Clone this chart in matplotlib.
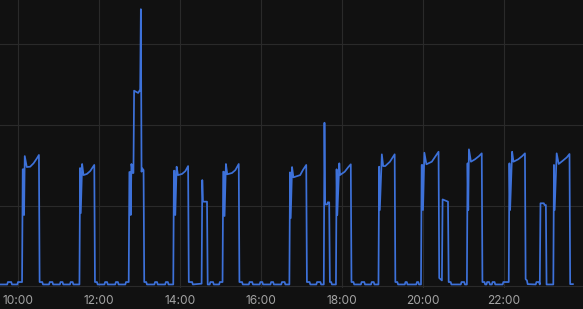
import matplotlib
matplotlib.use("Agg")
import matplotlib.pyplot as plt
import matplotlib.dates as mdates
import pandas as pd

# sample times (HH:MM) and power readings
times = [
    "09:30", "09:44", "09:45", "09:50", "09:51", "09:59", "10:00", "10:06",
    "10:07", "10:08", "10:09", "10:10", "10:13", "10:18", "10:23", "10:28", "10:31",
    "10:32", "10:36", "10:37", "10:46", "10:47", "10:51", "10:52", "11:02", "11:03",
    "11:06", "11:07", "11:17", "11:18", "11:21", "11:22", "11:31",
    "11:32", "11:33", "11:35", "11:37", "11:42", "11:47", "11:50", "11:53",
    "11:54", "11:57", "11:58", "12:08", "12:09", "12:12", "12:13", "12:24", "12:25",
    "12:28", "12:29", "12:39", "12:40", "12:44",
    "12:45", "12:46", "12:47", "12:48", "12:50", "12:51", "12:52", "12:58", "13:00",
    "13:01", "13:02", "13:03", "13:04", "13:06",
    "13:07", "13:10", "13:11", "13:22", "13:23", "13:26", "13:27", "13:38", "13:39",
    "13:42", "13:43", "13:50",
    "13:51", "13:52", "13:53", "13:55", "13:57", "14:03", "14:08", "14:12",
    "14:13", "14:18", "14:19", "14:32",
    "14:33", "14:34", "14:40",
    "14:41", "14:44", "14:45", "14:49", "14:50", "14:58", "14:59", "15:03",
    "15:04", "15:05", "15:06", "15:08", "15:10", "15:17", "15:22", "15:27",
    "15:28", "15:32", "15:33", "15:42", "15:43", "15:47", "15:48", "15:58", "15:59",
    "16:02", "16:03", "16:14", "16:15", "16:18", "16:19", "16:30", "16:31", "16:35",
    "16:36", "16:42",
    "16:43", "16:44", "16:46", "16:48", "16:58", "17:02", "17:07",
    "17:08", "17:12", "17:13", "17:22", "17:23", "17:28", "17:29", "17:33",
    "17:34", "17:35", "17:38", "17:39", "17:41",
    "17:42", "17:44", "17:45", "17:51",
    "17:52", "17:53", "17:56", "17:57", "18:04", "18:09", "18:13",
    "18:14", "18:17", "18:18", "18:28", "18:29", "18:33", "18:34", "18:43", "18:44",
    "18:47", "18:48", "18:54",
    "18:55", "18:56", "18:59", "19:01", "19:04", "19:11", "19:18",
    "19:19", "19:22", "19:23", "19:33", "19:34", "19:36", "19:37", "19:50", "19:51",
    "19:53", "19:54", "19:57",
    "19:58", "19:59", "20:00", "20:02", "20:05", "20:13", "20:18", "20:23",
    "20:24", "20:28", "20:29", "20:37",
    "20:38", "20:41", "20:42", "20:56", "20:57", "21:01", "21:02", "21:05",
    "21:06", "21:07", "21:08", "21:11", "21:17", "21:23", "21:27",
    "21:28", "21:31", "21:32", "21:34", "21:35", "21:38", "21:39", "21:42", "21:43",
    "21:46", "21:47", "21:58", "21:59", "22:07",
    "22:08", "22:09", "22:12", "22:14", "22:21", "22:27", "22:31",
    "22:32", "22:34", "22:35", "22:47", "22:48", "22:52", "22:53",
    "22:54", "22:59", "23:00", "23:02",
    "23:03", "23:13",
    "23:14", "23:15", "23:18", "23:21", "23:27", "23:33", "23:37",
    "23:38", "23:42",
]
watts = [
    10, 10, 25, 25, 10, 10, 25, 25,
    725, 725, 441, 807, 739, 741, 762, 793, 814,
    25, 25, 10, 10, 25, 25, 10, 10, 25,
    25, 10, 10, 25, 25, 10, 10,
    733, 453, 758, 689, 696, 714, 733, 752,
    25, 25, 10, 10, 25, 25, 10, 10, 25,
    25, 10, 10, 25, 25,
    708, 708, 441, 758, 702, 702, 1213, 1199, 1213,
    1213, 1719, 710, 731, 720,
    25, 25, 10, 10, 25, 25, 10, 10, 25,
    25, 10, 10,
    716, 716, 441, 741, 689, 696, 714, 745,
    25, 25, 10, 15,
    658, 524, 524,
    10, 10, 25, 25, 10, 10, 25, 25,
    710, 710, 435, 758, 694, 702, 720, 758,
    25, 25, 10, 10, 25, 25, 10, 10, 25,
    25, 10, 10, 25, 25, 10, 10, 25, 25,
    10, 10,
    706, 422, 739, 675, 689, 720, 752,
    25, 25, 10, 10, 25, 25, 10, 10,
    1014, 507, 507, 520, 520,
    25, 25, 10, 10,
    725, 441, 762, 689, 710, 737, 756,
    25, 25, 10, 10, 25, 25, 10, 10, 25,
    25, 10, 10,
    741, 472, 818, 745, 745, 772, 818,
    25, 25, 10, 10, 25, 25, 10, 10, 25,
    25, 10, 10,
    752, 752, 472, 828, 756, 772, 803, 834,
    50, 35, 538, 524,
    25, 25, 10, 10, 25, 25, 10, 10,
    762, 472, 849, 772, 787, 807, 824,
    25, 25, 10, 10, 25, 25, 10, 10, 25,
    25, 10, 10, 25, 25,
    762, 472, 834, 772, 787, 807, 824,
    43, 35, 12, 10, 25, 25, 10,
    514, 514, 503, 503,
    10, 10,
    752, 472, 824, 758, 778, 799, 820,
    12, 12,
]

day = "2024-01-01 "
t = pd.to_datetime([day + s for s in times])

fig = plt.figure(figsize=(5.83, 3.09), dpi=100, facecolor="#111111")
ax = fig.add_axes([0, 21 / 309, 1, 288 / 309])
ax.set_facecolor("#111111")

ax.plot(t, watts, color="#3d71d9", linewidth=1.25)

ax.set_xlim(pd.Timestamp(day + "09:33:20"), pd.Timestamp(day + "23:57:00"))
ax.set_ylim(-12, 1776)
ax.set_yticks([0, 500, 1000, 1500])
ax.xaxis.set_major_locator(mdates.HourLocator(byhour=range(10, 24, 2)))
ax.xaxis.set_major_formatter(mdates.DateFormatter("%H:%M"))

ax.grid(True, color="#2a2a2a", linewidth=0.8)
ax.set_axisbelow(True)
for s in ax.spines.values():
    s.set_visible(False)
ax.tick_params(axis="x", length=0, pad=5, labelsize=8.6, labelcolor="#a3a3a3")
ax.tick_params(axis="y", length=0, labelleft=False)
for lab in ax.get_xticklabels():
    lab.set_fontfamily("Inter")

fig.savefig("out.png", dpi=100, facecolor=fig.get_facecolor())
